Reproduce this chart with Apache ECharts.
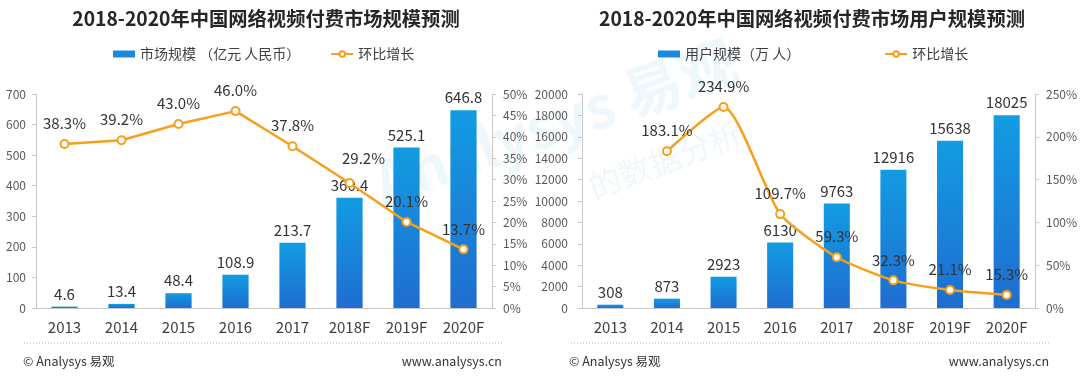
<!DOCTYPE html>
<html>
<head>
<meta charset="utf-8">
<script src="https://cdn.jsdelivr.net/npm/echarts@6/dist/echarts.min.js"></script>
<style>
html,body{margin:0;padding:0;background:#fff;}
#c{width:1080px;height:382px;}
</style>
</head>
<body>
<div id="c"></div>
<script>
const categories = ['2013','2014','2015','2016','2017','2018F','2019F','2020F'];
const marketSize = [4.6,13.4,48.4,108.9,213.7,360.4,525.1,646.8];
const marketGrowth = [38.3,39.2,43.0,46.0,37.8,29.2,20.1,13.7];
const userSize = [308,873,2923,6130,9763,12916,15638,18025];
const userGrowth = [null,183.1,234.9,109.7,59.3,32.3,21.1,15.3];
const titleLeft = '2018-2020年中国网络视频付费市场规模预测';
const titleRight = '2018-2020年中国网络视频付费市场用户规模预测';
const legendMarket = '市场规模 （亿元 人民币）';
const legendUsers = '用户规模（万 人）';
const legendGrowth = '环比增长';

const FONT = '"Noto Sans CJK SC","Noto Sans",sans-serif';
const ORANGE = '#F5A01A';
const TXT = '#404040';
const AXC = '#c8c8c8';
const barGrad = new echarts.graphic.LinearGradient(0,0,0,1,[
  {offset:0,color:'#129CE2'},{offset:1,color:'#1F6DD0'}]);

const chart = echarts.init(document.getElementById('c'), null, {renderer:'canvas'});

function catAxis(gi){
  return {type:'category', gridIndex:gi, data:categories,
    axisLine:{lineStyle:{color:AXC}}, axisTick:{show:false},
    axisLabel:{color:TXT, fontSize:15, fontFamily:FONT, margin:12}};
}
function valAxis(gi,max,interval,pct,margin){
  return {type:'value', gridIndex:gi, min:0, max:max, interval:interval,
    position: pct ? 'right' : 'left',
    splitLine:{show:false},
    axisLine:{show:true, lineStyle:{color:AXC}},
    axisTick:{show:true, length:4, lineStyle:{color:AXC}},
    axisLabel:{color:'#595959', fontSize:12, fontFamily:FONT, margin:margin,
      formatter: v => pct ? v + '%' : String(v)}};
}
const pctFmt = p => p.value == null ? '' : p.value.toFixed(1) + '%';
const barLabel = {show:true, position:'top', distance:5, color:'#333', fontSize:15, fontFamily:FONT};
const lineLabel = {show:true, position:'top', distance:8, color:'#333', fontSize:15, fontFamily:FONT, formatter:pctFmt};
const lineItem = {color:'#fff', borderColor:ORANGE, borderWidth:2};

const option = {
  animation:false,
  backgroundColor:'#fff',
  title:[
    {text:titleLeft, left:261, top:4, textAlign:'center',
     textStyle:{fontSize:19.3, fontWeight:'bold', color:'#262626', fontFamily:FONT}},
    {text:titleRight, left:807, top:4, textAlign:'center',
     textStyle:{fontSize:19.3, fontWeight:'bold', color:'#262626', fontFamily:FONT}}
  ],
  legend:[
    {left:108, top:42, itemGap:30, itemWidth:22, itemHeight:7,
     textStyle:{color:TXT, fontSize:14, fontFamily:FONT},
     data:[{name:legendMarket, icon:'rect', itemStyle:{color:'#1E88DC'}}, {name:legendGrowth+' '}]},
    {left:653, top:42, itemGap:84, itemWidth:22, itemHeight:7,
     textStyle:{color:TXT, fontSize:14, fontFamily:FONT},
     data:[{name:legendUsers, icon:'rect', itemStyle:{color:'#1E88DC'}}, {name:legendGrowth}]}
  ],
  grid:[
    {left:36, top:94, width:456, height:214},
    {left:582, top:94, width:457, height:214}
  ],
  xAxis:[catAxis(0), catAxis(1)],
  yAxis:[
    valAxis(0,700,100,false,10),
    valAxis(0,50,5,true,11),
    valAxis(1,20000,2000,false,14),
    valAxis(1,250,50,true,11)
  ],
  series:[
    {name:legendMarket, type:'bar', xAxisIndex:0, yAxisIndex:0, data:marketSize,
     barWidth:'46%', itemStyle:{color:barGrad}, label:barLabel, z:2},
    {name:legendGrowth+' ', type:'line', xAxisIndex:0, yAxisIndex:1,
     data:marketGrowth.map((v,i)=> i===5 ? {value:v, label:{offset:[14,-4]}} : v),
     symbol:'circle', symbolSize:8, showAllSymbol:true,
     itemStyle:lineItem, lineStyle:{color:ORANGE, width:2.5}, label:lineLabel, z:3},
    {name:legendUsers, type:'bar', xAxisIndex:1, yAxisIndex:2, data:userSize,
     barWidth:'46%', itemStyle:{color:barGrad}, label:barLabel, z:2},
    {name:legendGrowth, type:'line', xAxisIndex:1, yAxisIndex:3, data:userGrowth,
     smooth:0.2, connectNulls:false,
     symbol:'circle', symbolSize:8, showAllSymbol:true,
     itemStyle:lineItem, lineStyle:{color:ORANGE, width:2.5}, label:lineLabel, z:3}
  ],
  graphic:[
    {type:'text', x:555, y:122, rotation:0.34, z:-1,
     style:{text:'Analysys 易观', fill:'rgba(20,140,215,0.07)', font:'bold 58px '+FONT, textAlign:'center', textVerticalAlign:'middle'}},
    {type:'text', x:665, y:160, rotation:0.36, z:-1,
     style:{text:'的数据分析', fill:'rgba(20,140,215,0.07)', font:'32px '+FONT, textAlign:'center', textVerticalAlign:'middle'}},
    {type:'line', shape:{x1:24,y1:343,x2:502,y2:343}, style:{stroke:'#b0b0b0', lineWidth:1, lineDash:[1,2]}},
    {type:'line', shape:{x1:571,y1:343,x2:1049,y2:343}, style:{stroke:'#b0b0b0', lineWidth:1, lineDash:[1,2]}},
    {type:'text', left:23, top:355, style:{text:'© Analysys 易观', fill:'#333', font:'12.5px '+FONT}},
    {type:'text', right:1080-502, top:355, style:{text:'www.analysys.cn', fill:'#333', font:'12.5px '+FONT}},
    {type:'text', left:569, top:355, style:{text:'© Analysys 易观', fill:'#333', font:'12.5px '+FONT}},
    {type:'text', right:1080-1049, top:355, style:{text:'www.analysys.cn', fill:'#333', font:'12.5px '+FONT}}
  ]
};
chart.setOption(option);
</script>
</body>
</html>
